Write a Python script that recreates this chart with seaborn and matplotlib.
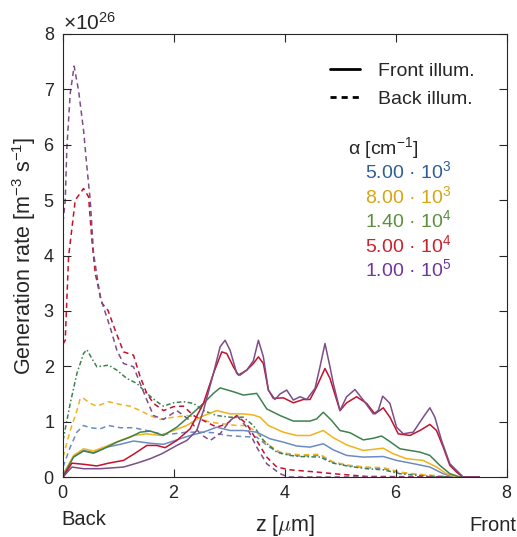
import matplotlib
matplotlib.use("Agg")
import matplotlib.pyplot as plt
from matplotlib.lines import Line2D
import seaborn as sns
import pandas as pd

SCALE = 1e26

# ---------------- data (generation rate in units of 1e26 m^-3 s^-1) -------------
# Front illumination (solid)
z_front_5e3 = [0, 0.04, 0.19, 0.37, 0.55, 0.79, 1.03, 1.27, 1.57, 1.81, 2.05, 2.29, 2.53, 2.77, 3.01, 3.25,
               3.49, 3.73, 3.97, 4.21, 4.45, 4.69, 4.87, 5.11, 5.41, 5.77, 6.01, 6.37, 6.61, 6.85, 7.03, 7.5]
g_front_5e3 = [0, 0.11, 0.37, 0.48, 0.44, 0.54, 0.59, 0.65, 0.61, 0.59, 0.67, 0.75, 0.81, 0.90, 0.84, 0.84,
               0.81, 0.69, 0.63, 0.56, 0.54, 0.60, 0.49, 0.39, 0.36, 0.37, 0.30, 0.23, 0.18, 0.06, 0, 0]

z_front_8e3 = [0, 0.04, 0.19, 0.37, 0.55, 0.79, 1.03, 1.27, 1.51, 1.75, 1.99, 2.23, 2.47, 2.77, 3.01, 3.25,
               3.43, 3.55, 3.70, 3.97, 4.21, 4.45, 4.69, 4.87, 5.11, 5.41, 5.59, 5.77, 5.95, 6.19, 6.49,
               6.73, 6.91, 7.09, 7.5]
g_front_8e3 = [0, 0.11, 0.39, 0.51, 0.47, 0.56, 0.66, 0.75, 0.78, 0.75, 0.84, 0.93, 1.08, 1.20, 1.14, 1.14,
               1.12, 1.08, 0.93, 0.81, 0.75, 0.75, 0.84, 0.71, 0.58, 0.48, 0.50, 0.52, 0.42, 0.33, 0.30,
               0.18, 0.06, 0, 0]

z_front_14e3 = [0, 0.04, 0.19, 0.37, 0.55, 0.73, 0.97, 1.21, 1.39, 1.57, 1.81, 2.05, 2.29, 2.53, 2.71, 2.83,
                3.07, 3.25, 3.49, 3.67, 3.91, 4.15, 4.45, 4.57, 4.69, 4.84, 4.99, 5.17, 5.41, 5.59, 5.74,
                5.89, 6.07, 6.25, 6.43, 6.61, 6.79, 6.97, 7.15, 7.5]
g_front_14e3 = [0, 0.09, 0.36, 0.47, 0.43, 0.51, 0.63, 0.72, 0.81, 0.83, 0.75, 0.90, 1.11, 1.33, 1.51, 1.61,
                1.54, 1.48, 1.51, 1.23, 1.11, 1.01, 1.01, 1.05, 1.17, 1.02, 0.84, 0.80, 0.67, 0.70, 0.74,
                0.64, 0.51, 0.48, 0.45, 0.39, 0.21, 0.06, 0, 0]

z_front_5e4 = [0, 0.16, 0.37, 0.61, 0.82, 1.09, 1.27, 1.51, 1.69, 1.84, 2.05, 2.29, 2.53, 2.71, 2.86, 2.95,
               3.07, 3.16, 3.31, 3.43, 3.52, 3.61, 3.70, 3.79, 3.97, 4.15, 4.33, 4.45, 4.57, 4.72, 4.81,
               4.99, 5.11, 5.29, 5.47, 5.62, 5.77, 5.89, 6.04, 6.25, 6.43, 6.61, 6.73, 6.85, 6.97, 7.09,
               7.20, 7.5]
g_front_5e4 = [0, 0.25, 0.23, 0.20, 0.25, 0.30, 0.41, 0.57, 0.57, 0.53, 0.66, 0.87, 1.33, 1.87, 2.26, 2.23,
               1.99, 1.84, 1.93, 2.05, 2.17, 2.05, 1.57, 1.42, 1.43, 1.34, 1.40, 1.40, 1.63, 1.96, 1.78,
               1.20, 1.34, 1.45, 1.33, 1.14, 1.25, 1.08, 0.78, 0.75, 0.84, 0.95, 0.84, 0.54, 0.21, 0.09,
               0, 0]

z_front_1e5 = [0, 0.16, 0.37, 0.67, 1.09, 1.33, 1.57, 1.78, 2.05, 2.23, 2.41, 2.53, 2.71, 2.83, 2.92, 3.01,
               3.13, 3.19, 3.31, 3.43, 3.52, 3.61, 3.70, 3.82, 3.91, 4.03, 4.15, 4.27, 4.39, 4.54, 4.63,
               4.72, 4.81, 4.87, 4.99, 5.11, 5.26, 5.41, 5.59, 5.68, 5.76, 5.89, 6.01, 6.13, 6.31, 6.49,
               6.61, 6.70, 6.82, 6.97, 7.12, 7.21, 7.5]
g_front_1e5 = [0, 0.18, 0.15, 0.15, 0.18, 0.25, 0.33, 0.42, 0.57, 0.66, 0.84, 1.20, 1.87, 2.35, 2.47, 2.29,
               1.87, 1.84, 1.93, 2.10, 2.47, 2.17, 1.57, 1.40, 1.50, 1.57, 1.39, 1.45, 1.40, 1.60, 1.99,
               2.41, 1.99, 1.69, 1.20, 1.45, 1.58, 1.39, 1.14, 1.20, 1.46, 1.33, 0.90, 0.78, 0.81, 1.08,
               1.25, 1.08, 0.66, 0.24, 0.09, 0, 0]

# Back illumination (dashed)
z_back_5e3 = [0, 0.13, 0.25, 0.37, 0.49, 0.67, 0.82, 1.03, 1.27, 1.51, 1.75, 1.99, 2.23, 2.47, 2.71, 2.95,
              3.25, 3.49, 3.70, 3.94, 4.27, 4.63, 4.87, 5.17, 5.47, 5.77, 6.07, 6.37, 6.67, 7.0, 7.5]
g_back_5e3 = [0.18, 0.54, 0.81, 0.93, 0.89, 0.87, 0.93, 0.89, 0.89, 0.84, 0.78, 0.78, 0.81, 0.81, 0.80, 0.75,
              0.73, 0.72, 0.55, 0.42, 0.38, 0.39, 0.26, 0.20, 0.17, 0.15, 0.08, 0.05, 0.02, 0, 0]

z_back_8e3 = [0, 0.13, 0.25, 0.31, 0.37, 0.49, 0.61, 0.82, 1.03, 1.21, 1.39, 1.57, 1.75, 1.99, 2.23, 2.41,
              2.65, 2.89, 3.13, 3.31, 3.49, 3.67, 3.91, 4.09, 4.27, 4.63, 4.87, 5.17, 5.47, 5.77, 6.07,
              6.37, 6.67, 7.0, 7.5]
g_back_8e3 = [0.36, 0.84, 1.20, 1.42, 1.42, 1.33, 1.28, 1.36, 1.31, 1.28, 1.20, 1.11, 1.04, 1.08, 1.11, 1.08,
              0.99, 0.96, 0.93, 0.93, 0.81, 0.60, 0.45, 0.42, 0.40, 0.41, 0.27, 0.21, 0.18, 0.17, 0.09,
              0.05, 0.03, 0, 0]

z_back_14e3 = [0, 0.13, 0.25, 0.37, 0.43, 0.52, 0.61, 0.82, 0.97, 1.15, 1.33, 1.51, 1.69, 1.81, 1.99, 2.17,
               2.35, 2.53, 2.77, 3.01, 3.25, 3.43, 3.61, 3.85, 4.09, 4.27, 4.63, 4.87, 5.17, 5.47, 5.77,
               6.07, 6.37, 6.67, 7.0, 7.5]
g_back_14e3 = [0.66, 1.33, 1.87, 2.23, 2.30, 2.14, 1.99, 2.02, 1.93, 1.78, 1.69, 1.51, 1.36, 1.28, 1.34, 1.36,
               1.33, 1.20, 1.11, 1.08, 1.08, 0.93, 0.66, 0.45, 0.39, 0.37, 0.36, 0.25, 0.19, 0.15, 0.13,
               0.06, 0.03, 0.01, 0, 0]

z_back_5e4 = [0, 0.04, 0.10, 0.22, 0.37, 0.46, 0.52, 0.58, 0.70, 0.81, 0.94, 1.09, 1.27, 1.39, 1.51, 1.63,
              1.81, 1.99, 2.17, 2.35, 2.53, 2.77, 2.95, 3.13, 3.31, 3.49, 3.67, 3.85, 4.09, 4.57, 4.87,
              5.47, 7.5]
g_back_5e4 = [2.40, 2.47, 3.98, 5.00, 5.21, 5.06, 4.28, 3.68, 3.14, 3.01, 2.65, 2.26, 2.20, 1.81, 1.51, 1.33,
              1.20, 1.27, 1.28, 1.11, 1.02, 0.90, 0.96, 1.11, 0.96, 0.66, 0.36, 0.18, 0.13, 0.09, 0.06,
              0.01, 0]

z_back_1e5 = [0, 0.04, 0.07, 0.13, 0.20, 0.28, 0.37, 0.43, 0.49, 0.55, 0.67, 0.85, 0.97, 1.09, 1.27, 1.39,
              1.51, 1.63, 1.81, 2.05, 2.29, 2.47, 2.65, 2.83, 3.01, 3.13, 3.31, 3.49, 3.67, 3.91, 4.06, 7.5]
g_back_1e5 = [4.60, 5.00, 5.96, 6.93, 7.42, 6.98, 6.26, 5.60, 5.00, 4.04, 3.25, 2.70, 2.29, 2.05, 1.99, 1.69,
              1.39, 1.11, 1.04, 1.20, 1.02, 0.78, 0.66, 0.78, 1.02, 1.11, 0.90, 0.54, 0.24, 0.06, 0, 0]

alpha_labels = ["5.00 \u00b7 10$^{3}$", "8.00 \u00b7 10$^{3}$", "1.40 \u00b7 10$^{4}$",
                "5.00 \u00b7 10$^{4}$", "1.00 \u00b7 10$^{5}$"]
x_ticks = [0, 2, 4, 6, 8]
y_ticks = [0, 1, 2, 3, 4, 5, 6, 7, 8]

# ---------------- styling -------------
line_colors = ["#6a8bc3", "#f1b21c", "#3f8050", "#c3112e", "#7d4e86"]
text_colors = ["#2f5f96", "#d6a514", "#5b8f3e", "#c9232b", "#6f35a0"]

sns.set_style("white")
plt.rcParams["font.family"] = ["Liberation Sans", "DejaVu Sans"]
plt.rcParams["mathtext.fontset"] = "custom"
plt.rcParams["mathtext.rm"] = "Liberation Sans"
plt.rcParams["mathtext.it"] = "Liberation Sans:italic"
plt.rcParams["mathtext.bf"] = "Liberation Sans:bold"
plt.rcParams["axes.formatter.use_mathtext"] = True
plt.rcParams.update({
    "xtick.bottom": True, "xtick.top": True, "ytick.left": True, "ytick.right": True,
    "xtick.direction": "in", "ytick.direction": "in",
    "xtick.major.size": 6, "ytick.major.size": 6,
    "xtick.major.width": 0.8, "ytick.major.width": 0.8,
    "axes.axisbelow": False,
})

fig = plt.figure(figsize=(5.17, 5.37), dpi=100)
ax = fig.add_axes([0.1219, 0.1117, 0.8588, 0.825])

front = [(z_front_5e3, g_front_5e3), (z_front_8e3, g_front_8e3), (z_front_14e3, g_front_14e3),
         (z_front_5e4, g_front_5e4), (z_front_1e5, g_front_1e5)]
back = [(z_back_5e3, g_back_5e3), (z_back_8e3, g_back_8e3), (z_back_14e3, g_back_14e3),
        (z_back_5e4, g_back_5e4), (z_back_1e5, g_back_1e5)]

dash = (0, (3.5, 2.5))
dashdot = (0, (3.0, 1.6, 1.0, 1.6))

for i, (zz, gg) in enumerate(back):
    df = pd.DataFrame({"z": zz, "G": [v * SCALE for v in gg]})
    sns.lineplot(data=df, x="z", y="G", ax=ax, color=line_colors[i], lw=1.1,
                 linestyle=dashdot if i == 2 else dash, estimator=None, sort=False)
for i, (zz, gg) in enumerate(front):
    df = pd.DataFrame({"z": zz, "G": [v * SCALE for v in gg]})
    sns.lineplot(data=df, x="z", y="G", ax=ax, color=line_colors[i], lw=1.1,
                 linestyle="-", estimator=None, sort=False)

ax.set_xlim(0, 8)
ax.set_ylim(0, 8 * SCALE)
ax.set_xticks(x_ticks)
ax.set_yticks([v * SCALE for v in y_ticks])
ax.tick_params(which="major", direction="in", length=6, width=0.8, top=True, right=True,
               bottom=True, left=True, labelsize=13, color="#262626", labelcolor="#262626", pad=6)
ax.yaxis.get_offset_text().set_fontsize(15)
for s in ax.spines.values():
    s.set_linewidth(0.8)
    s.set_color("#262626")

ax.set_xlabel(r"z [$\mu$m]", fontsize=15.5, labelpad=8, math_fontfamily="cm")
ax.set_ylabel("Generation rate [m$^{-3}$ s$^{-1}$]", fontsize=15.5, labelpad=4)

ax.text(-0.003, -0.108, "Back", transform=ax.transAxes, fontsize=14.5, ha="left", va="baseline")
ax.text(1.020, -0.121, "Front", transform=ax.transAxes, fontsize=14.5, ha="right", va="baseline")

handles = [Line2D([], [], color="black", lw=2.0),
           Line2D([], [], color="black", lw=2.0, linestyle=(0, (2.2, 1.8)))]
ax.legend(handles, ["Front illum.", "Back illum."], loc="upper left",
          bbox_to_anchor=(0.601, 0.937), frameon=False, fontsize=14, borderpad=0,
          borderaxespad=0, handlelength=1.55, handletextpad=0.9, labelspacing=0.55)

ax.text(0.642, 0.729, "\u03b1 [cm$^{-1}$]", transform=ax.transAxes, fontsize=14, va="baseline")
alpha_y = [0.675, 0.6185, 0.564, 0.508, 0.454]
for lab, yy, c in zip(alpha_labels, alpha_y, text_colors):
    ax.text(0.680, yy, lab, transform=ax.transAxes, fontsize=14, va="baseline", color=c)

fig.savefig("out.png", dpi=100)
